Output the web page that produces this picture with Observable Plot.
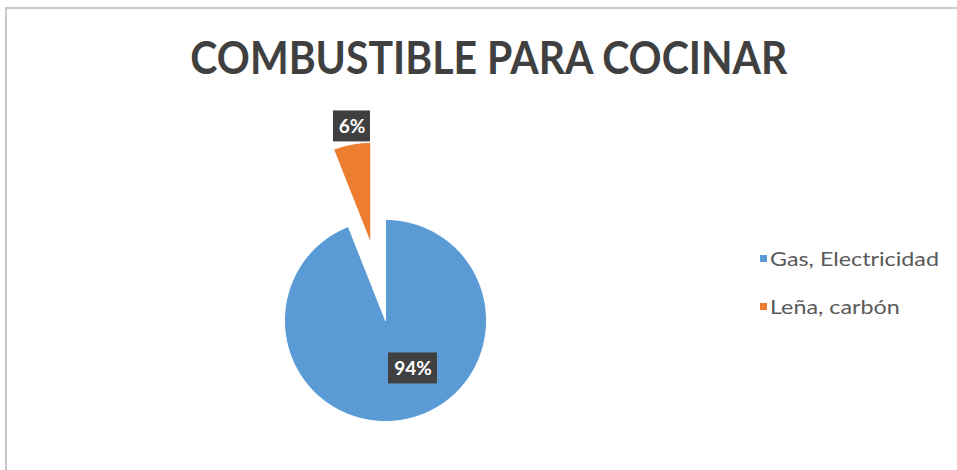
<!DOCTYPE html>
<html>
<head>
<meta charset="utf-8">
<script src="https://cdn.jsdelivr.net/npm/d3@7"></script>
<script src="https://cdn.jsdelivr.net/npm/@observablehq/plot@0.6"></script>
<style>
  html, body { margin: 0; padding: 0; background: #fff; }
  #wrap { position: relative; width: 957px; height: 470px; overflow: hidden; background: #fff; font-family: Lato, "Open Sans", sans-serif; }
  #frame { position: absolute; left: 5px; top: 7px; width: 1200px; height: 1200px; border-top: 2px solid #c8c8c8; border-left: 2px solid #c8c8c8; }
  #title { position: absolute; left: 10px; width: 957px; top: 35px; text-align: center; line-height: 1; }
  #title span { display: inline-block; font-size: 45px; font-weight: 700; color: #404040; white-space: nowrap; transform-origin: center; }
  #chart { position: absolute; left: 0; top: 100px; }
  .leg { position: absolute; left: 760px; font-family: Lato, "Open Sans", sans-serif; font-size: 20px; line-height: 1; color: #595959; white-space: nowrap; }
  .leg i { position: absolute; left: 0; top: 7px; width: 7px; height: 7px; }
  .leg span { position: absolute; left: 10px; top: 0; transform-origin: left center; }
</style>
</head>
<body>
<div id="wrap">
  <div id="frame"></div>
  <div id="title"><span>COMBUSTIBLE PARA COCINAR</span></div>
  <div id="chart"></div>
  <div id="legend"></div>
</div>
<script>
// ---- data ----
const titleText = "COMBUSTIBLE PARA COCINAR";
const categories = ["Gas, Electricidad", "Leña, carbón"];
const values = [94, 6];
const labels = ["94%", "6%"];

// ---- style / layout ----
const colors = ["#5B9BD5", "#ED7D31"];
const explode = [0, 0.777];            // slice pull-out, in radii
const labelAngle = [150.2, 350.2];     // degrees clockwise from 12 o'clock
const labelRadius = [0.547, 1.95];     // in radii
const R = 101;                          // pie radius in px
const W = 957, H = 370, CX = 385, CY = 220;

// ---- geometry from data ----
const total = d3.sum(values);
const rad = a => a * Math.PI / 180;
const slicePts = [];
let acc = 0;
values.forEach((v, i) => {
  const a0 = acc / total * 360, a1 = (acc + v) / total * 360;
  acc += v;
  const mid = rad((a0 + a1) / 2);
  const ox = explode[i] * Math.sin(mid), oy = explode[i] * Math.cos(mid);
  const n = Math.max(2, Math.ceil((a1 - a0) / 1));
  slicePts.push({cat: categories[i], x: ox, y: oy});
  for (let k = 0; k <= n; k++) {
    const a = rad(a0 + (a1 - a0) * k / n);
    slicePts.push({cat: categories[i], x: ox + Math.sin(a), y: oy + Math.cos(a)});
  }
  slicePts.push({cat: categories[i], x: ox, y: oy});
});

const labelData = values.map((v, i) => {
  const a = rad(labelAngle[i]);
  const x = labelRadius[i] * Math.sin(a), y = labelRadius[i] * Math.cos(a);
  const hw = (13 + 12 * labels[i].length) / 2 / R, hh = 15.5 / R;
  return {text: labels[i], x, y, x1: x - hw, x2: x + hw, y1: y - hh, y2: y + hh};
});

const chart = Plot.plot({
  width: W, height: H,
  marginTop: 0, marginRight: 0, marginBottom: 0, marginLeft: 0,
  x: {domain: [-CX / R, (W - CX) / R], axis: null},
  y: {domain: [-(H - CY) / R, CY / R], axis: null},
  color: {domain: categories, range: colors},
  style: {background: "transparent", overflow: "visible"},
  marks: [
    Plot.line(slicePts, {x: "x", y: "y", z: "cat", fill: "cat", stroke: "white", strokeWidth: 1, curve: "linear"}),
    Plot.rect(labelData, {x1: "x1", x2: "x2", y1: "y1", y2: "y2", fill: "#404040"}),
    Plot.text(labelData, {x: "x", y: "y", text: "text", fill: "white", fontSize: 19, fontWeight: "bold", fontFamily: "Lato, 'Open Sans', sans-serif"})
  ]
});
document.getElementById("chart").appendChild(chart);

// title
const tspan = document.querySelector("#title span");
tspan.textContent = titleText;
const tw = tspan.getBoundingClientRect().width;
tspan.style.transform = `scaleX(${597 / tw})`;

// legend
const legendTops = [248, 296];
const leg = document.getElementById("legend");
const spans = [];
categories.forEach((c, i) => {
  const row = document.createElement("div");
  row.className = "leg";
  row.style.top = legendTops[i] + "px";
  const sw = document.createElement("i");
  sw.style.background = colors[i];
  const tx = document.createElement("span");
  tx.textContent = c;
  row.appendChild(sw); row.appendChild(tx);
  leg.appendChild(row);
  spans.push(tx);
});
const lw = spans[0].getBoundingClientRect().width;
const ls = 169 / lw;
spans.forEach(s => s.style.transform = `scaleX(${ls})`);
</script>
</body>
</html>
